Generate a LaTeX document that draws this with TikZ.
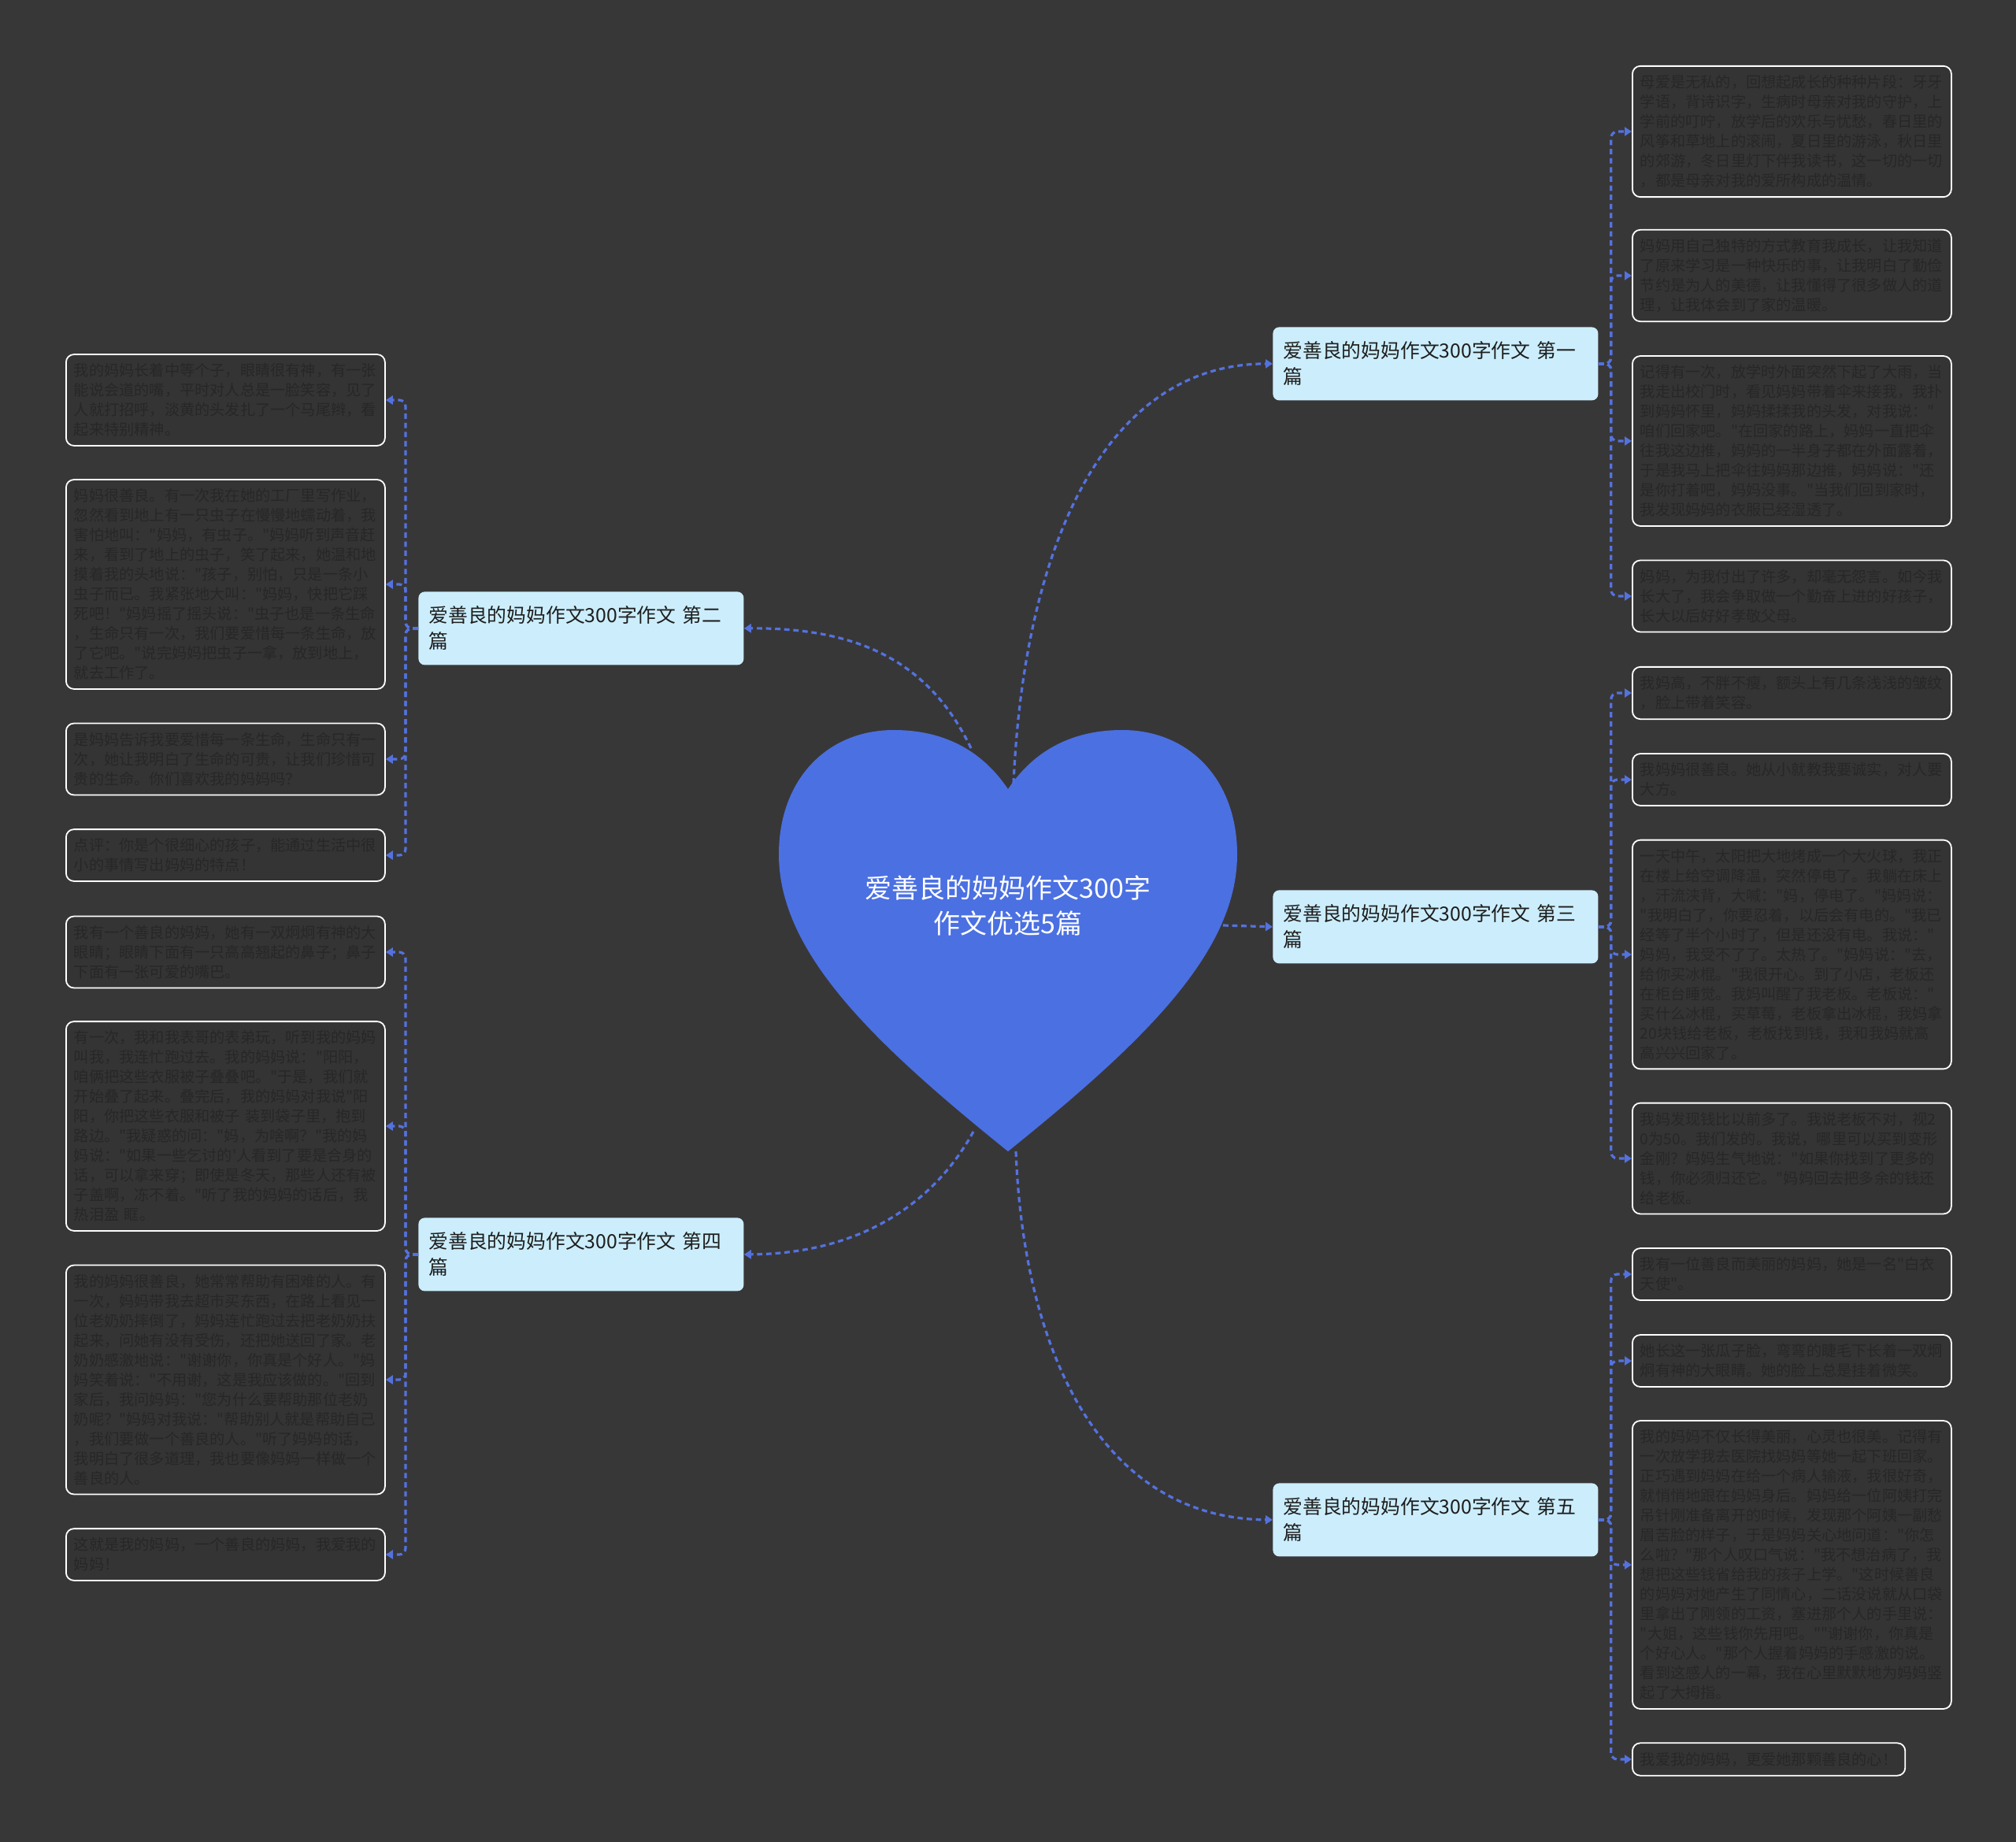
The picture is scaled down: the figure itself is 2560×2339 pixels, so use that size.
\documentclass[tikz,border=0pt]{standalone}
\usepackage{fontspec}
\newfontfamily\cjk{Noto Sans CJK SC}
\usetikzlibrary{arrows.meta,calc}
\definecolor{bg}{RGB}{56,55,56}
\definecolor{leaffill}{RGB}{53,52,53}
\definecolor{heartblue}{RGB}{75,112,226}
\definecolor{linkblue}{RGB}{84,114,222}
\definecolor{branchfill}{RGB}{204,238,252}
\definecolor{branchtext}{RGB}{30,30,30}
\definecolor{leaftext}{RGB}{40,39,40}
\begin{document}
\begin{tikzpicture}[x=0.5pt,y=-0.5pt,
  branchbox/.style={fill=branchfill, rounded corners=4pt, text=branchtext,
    font=\cjk\fontsize{12.4pt}{16.5pt}\selectfont, align=left, text width=193.5pt,
    inner xsep=6.5pt, inner ysep=0pt, minimum height=46.5pt, anchor=north west},
  leafbase/.style={draw=white, line width=0.9pt, fill=leaffill, rounded corners=5pt,
    text=leaftext, font=\cjk\fontsize{9.6pt}{12.5pt}\selectfont,
    inner xsep=5pt, inner ysep=5.75pt, anchor=west},
  leafbox/.style={leafbase, align=left, text width=192.5pt},
  conn/.style={draw=linkblue, line width=1.6pt, dash pattern=on 3.4pt off 2.4pt,
    -{Triangle[length=4.5pt,width=5.5pt]}},
  rootlabel/.style={text=white, font=\cjk\fontsize{17pt}{22.5pt}\selectfont, align=center}
]
\useasboundingbox (0,0) rectangle (2560,2339);
\fill[bg] (0,0) rectangle (2560,2339);

% heart
\fill[heartblue] (1280,1002) .. controls (1245,950) and (1195,927) .. (1135,927)
  .. controls (1050,927) and (989,990) .. (989,1085)
  .. controls (989,1210) and (1110,1325) .. (1280,1462)
  .. controls (1450,1325) and (1571,1210) .. (1571,1085)
  .. controls (1571,990) and (1510,927) .. (1425,927)
  .. controls (1365,927) and (1315,950) .. (1280,1002) -- cycle;
\node[rootlabel] (root) at (1280,1150) {爱善良的妈妈作文300字\\作文优选5篇};
\coordinate (h1) at (1287,995);
\coordinate (h2) at (1233,950);
\coordinate (h3) at (1553,1175);
\coordinate (h4) at (1236,1437);
\coordinate (h5) at (1290,1462);

% branches
\node[branchbox] (b1) at (1616,415) {爱善良的妈妈作文300字作文 第一\\篇};
\node[branchbox] (b2) at (531,751) {爱善良的妈妈作文300字作文 第二\\篇};
\node[branchbox] (b3) at (1616,1130) {爱善良的妈妈作文300字作文 第三\\篇};
\node[branchbox] (b4) at (531,1546) {爱善良的妈妈作文300字作文 第四\\篇};
\node[branchbox] (b5) at (1616,1883) {爱善良的妈妈作文300字作文 第五\\篇};

\draw[conn] (h1) .. controls (1300,700) and (1400,462) .. (b1.west);
\draw[conn] (h2) .. controls (1180,840) and (1090,797) .. (b2.east);
\draw[conn] (h3) -- (b3.west);
\draw[conn] (h4) .. controls (1185,1530) and (1090,1592) .. (b4.east);
\draw[conn] (h5) .. controls (1300,1720) and (1400,1928) .. (b5.west);

% leaves, branch 1
\node[leafbox] (r1a) at (2072,167) {母爱是无私的，回想起成长的种种片段：牙牙\\学语，背诗识字，生病时母亲对我的守护，上\\学前的叮咛，放学后的欢乐与忧愁，春日里的\\风筝和草地上的滚闹，夏日里的游泳，秋日里\\的郊游，冬日里灯下伴我读书，这一切的一切\\，都是母亲对我的爱所构成的温情。};
\node[leafbox] (r1b) at (2072,350) {妈妈用自己独特的方式教育我成长，让我知道\\了原来学习是一种快乐的事，让我明白了勤俭\\节约是为人的美德，让我懂得了很多做人的道\\理，让我体会到了家的温暖。};
\node[leafbox] (r1c) at (2072,560) {记得有一次，放学时外面突然下起了大雨，当\\我走出校门时，看见妈妈带着伞来接我，我扑\\到妈妈怀里，妈妈揉揉我的头发，对我说："\\咱们回家吧。"在回家的路上，妈妈一直把伞\\往我这边推，妈妈的一半身子都在外面露着，\\于是我马上把伞往妈妈那边推，妈妈说："还\\是你打着吧，妈妈没事。"当我们回到家时，\\我发现妈妈的衣服已经湿透了。};
\node[leafbox] (r1d) at (2072,757) {妈妈，为我付出了许多，却毫无怨言。如今我\\长大了，我会争取做一个勤奋上进的好孩子，\\长大以后好好孝敬父母。};

% leaves, branch 3
\node[leafbox] (r3a) at (2072,880) {我妈高，不胖不瘦，额头上有几条浅浅的皱纹\\，脸上带着笑容。};
\node[leafbox] (r3b) at (2072,990) {我妈妈很善良。她从小就教我要诚实，对人要\\大方。};
\node[leafbox] (r3c) at (2072,1212) {一天中午，太阳把大地烤成一个大火球，我正\\在楼上给空调降温，突然停电了。我躺在床上\\，汗流浃背，大喊："妈，停电了。"妈妈说：\\"我明白了，你要忍着，以后会有电的。"我已\\经等了半个小时了，但是还没有电。我说："\\妈妈，我受不了了。太热了。"妈妈说："去，\\给你买冰棍。"我很开心。到了小店，老板还\\在柜台睡觉。我妈叫醒了我老板。老板说："\\买什么冰棍，买草莓，老板拿出冰棍，我妈拿\\20块钱给老板，老板找到钱，我和我妈就高\\高兴兴回家了。};
\node[leafbox] (r3d) at (2072,1471) {我妈发现钱比以前多了。我说老板不对，视2\\0为50。我们发的。我说，哪里可以买到变形\\金刚？妈妈生气地说："如果你找到了更多的\\钱，你必须归还它。"妈妈回去把多余的钱还\\给老板。};

% leaves, branch 5
\node[leafbox] (r5a) at (2072,1618) {我有一位善良而美丽的妈妈，她是一名"白衣\\天使"。};
\node[leafbox] (r5b) at (2072,1728) {她长这一张瓜子脸，弯弯的睫毛下长着一双炯\\炯有神的大眼睛。她的脸上总是挂着微笑。};
\node[leafbox] (r5c) at (2072,1987) {我的妈妈不仅长得美丽，心灵也很美。记得有\\一次放学我去医院找妈妈等她一起下班回家。\\正巧遇到妈妈在给一个病人输液，我很好奇，\\就悄悄地跟在妈妈身后。妈妈给一位阿姨打完\\吊针刚准备离开的时候，发现那个阿姨一副愁\\眉苦脸的样子，于是妈妈关心地问道："你怎\\么啦？"那个人叹口气说："我不想治病了，我\\想把这些钱省给我的孩子上学。"这时候善良\\的妈妈对她产生了同情心，二话没说就从口袋\\里拿出了刚领的工资，塞进那个人的手里说：\\"大姐，这些钱你先用吧。""谢谢你，你真是\\个好心人。"那个人握着妈妈的手感激的说。\\看到这感人的一幕，我在心里默默地为妈妈竖\\起了大拇指。};
\node[leafbase] (r5d) at (2072,2234) {我爱我的妈妈，更爱她那颗善良的心！};

% leaves, branch 2
\node[leafbox] (l2a) at (83,508) {我的妈妈长着中等个子，眼睛很有神，有一张\\能说会道的嘴，平时对人总是一脸笑容，见了\\人就打招呼，淡黄的头发扎了一个马尾辫，看\\起来特别精神。};
\node[leafbox] (l2b) at (83,742) {妈妈很善良。有一次我在她的工厂里写作业，\\忽然看到地上有一只虫子在慢慢地蠕动着，我\\害怕地叫："妈妈，有虫子。"妈妈听到声音赶\\来，看到了地上的虫子，笑了起来，她温和地\\摸着我的头地说："孩子，别怕，只是一条小\\虫子而已。我紧张地大叫："妈妈，快把它踩\\死吧！"妈妈摇了摇头说："虫子也是一条生命\\，生命只有一次，我们要爱惜每一条生命，放\\了它吧。"说完妈妈把虫子一拿，放到地上，\\就去工作了。};
\node[leafbox] (l2c) at (83,964) {是妈妈告诉我要爱惜每一条生命，生命只有一\\次，她让我明白了生命的可贵，让我们珍惜可\\贵的生命。你们喜欢我的妈妈吗？};
\node[leafbox] (l2d) at (83,1086) {点评：你是个很细心的孩子，能通过生活中很\\小的事情写出妈妈的特点！};

% leaves, branch 4
\node[leafbox] (l4a) at (83,1209) {我有一个善良的妈妈，她有一双炯炯有神的大\\眼睛；眼睛下面有一只高高翘起的鼻子；鼻子\\下面有一张可爱的嘴巴。};
\node[leafbox] (l4b) at (83,1430) {有一次，我和我表哥的表弟玩，听到我的妈妈\\叫我，我连忙跑过去。我的妈妈说："阳阳，\\咱俩把这些衣服被子叠叠吧。"于是，我们就\\开始叠了起来。叠完后，我的妈妈对我说"阳\\阳，你把这些衣服和被子 装到袋子里，抱到\\路边。"我疑惑的问："妈，为啥啊？"我的妈\\妈说："如果一些乞讨的'人看到了要是合身的\\话，可以拿来穿；即使是冬天，那些人还有被\\子盖啊，冻不着。"听了我的妈妈的话后，我\\热泪盈 眶。};
\node[leafbox] (l4c) at (83,1752) {我的妈妈很善良，她常常帮助有困难的人。有\\一次，妈妈带我去超市买东西，在路上看见一\\位老奶奶摔倒了，妈妈连忙跑过去把老奶奶扶\\起来，问她有没有受伤，还把她送回了家。老\\奶奶感激地说："谢谢你，你真是个好人。"妈\\妈笑着说："不用谢，这是我应该做的。"回到\\家后，我问妈妈："您为什么要帮助那位老奶\\奶呢？"妈妈对我说："帮助别人就是帮助自己\\，我们要做一个善良的人。"听了妈妈的话，\\我明白了很多道理，我也要像妈妈一样做一个\\善良的人。};
\node[leafbox] (l4d) at (83,1974) {这就是我的妈妈，一个善良的妈妈，我爱我的\\妈妈！};

% branch to leaf connectors
\foreach \l in {r1a,r1b,r1c,r1d}
  \draw[conn, rounded corners=4pt] (b1.east) -- ++(16,0) |- (\l.west);
\foreach \l in {r3a,r3b,r3c,r3d}
  \draw[conn, rounded corners=4pt] (b3.east) -- ++(16,0) |- (\l.west);
\foreach \l in {r5a,r5b,r5c,r5d}
  \draw[conn, rounded corners=4pt] (b5.east) -- ++(16,0) |- (\l.west);
\foreach \l in {l2a,l2b,l2c,l2d}
  \draw[conn, rounded corners=4pt] (b2.west) -- ++(-16,0) |- (\l.east);
\foreach \l in {l4a,l4b,l4c,l4d}
  \draw[conn, rounded corners=4pt] (b4.west) -- ++(-16,0) |- (\l.east);
\end{tikzpicture}
\end{document}
